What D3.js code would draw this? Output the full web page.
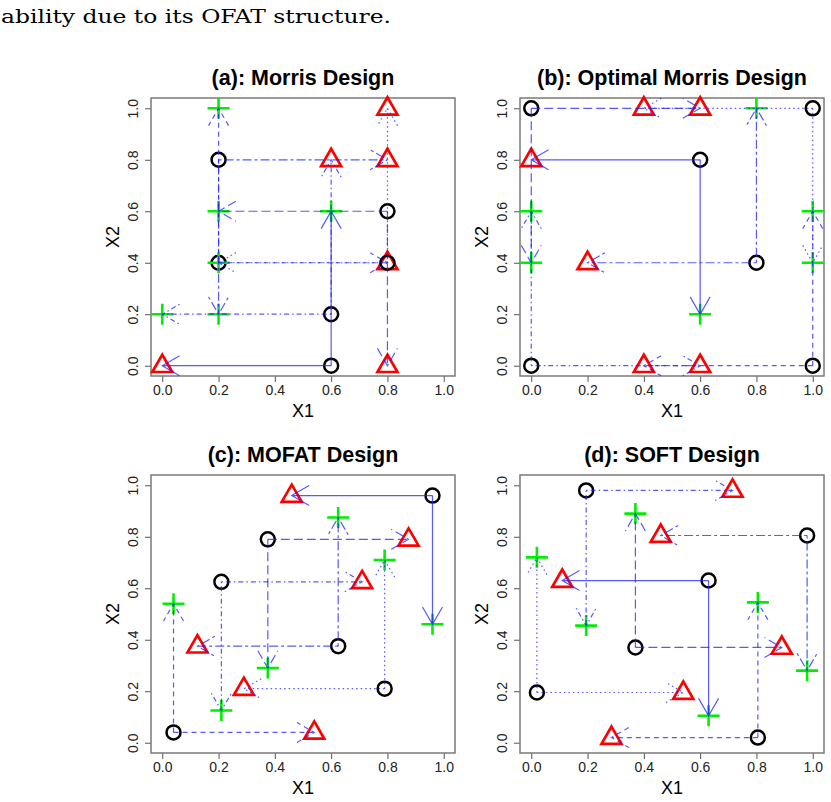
<!DOCTYPE html>
<html>
<head>
<meta charset="utf-8">
<script src="https://cdn.jsdelivr.net/npm/d3@7"></script>
<style>
  body { margin: 0; background: #fff; }
  svg { display: block; }
  .tick text { font-family: "Liberation Sans", Arial, sans-serif; font-size: 14px; fill: #222; }
  .tick line { stroke: #555; }
</style>
</head>
<body>
<div id="chart"></div>
<script>

// Point data: base point (circle), X1/X2 moves (triangle / plus), one line type each

const panelTitles = ["(a): Morris Design", "(b): Optimal Morris Design", "(c): MOFAT Design", "(d): SOFT Design"];
const tickValues = [0, 0.2, 0.4, 0.6, 0.8, 1.0];
const lineTypes = ["solid", "dashed", "dotted", "dotdash", "longdash", "twodash"];

const morrisCircle = [[0.6, 0.0], [0.2, 0.4], [0.8, 0.4], [0.6, 0.2], [0.8, 0.6], [0.2, 0.8]];
const morrisTriangle = [[0.0, 0.0], [0.8, 0.4], [0.8, 1.0], [0.6, 0.8], [0.8, 0.0], [0.8, 0.8]];
const morrisPlus = [[0.6, 0.6], [0.2, 1.0], [0.2, 0.4], [0.0, 0.2], [0.2, 0.6], [0.2, 0.2]];

const optCircle = [[0.6, 0.8], [1.0, 0.0], [1.0, 1.0], [0.0, 0.0], [0.0, 1.0], [0.8, 0.4]];
const optTriangle = [[0.0, 0.8], [0.4, 0.0], [0.4, 1.0], [0.6, 0.0], [0.6, 1.0], [0.2, 0.4]];
const optPlus = [[0.6, 0.2], [1.0, 0.6], [1.0, 0.4], [0.0, 0.6], [0.0, 0.4], [0.8, 1.0]];

const mofatCircle = [[0.96, 0.96], [0.04, 0.04], [0.79, 0.21], [0.21, 0.625], [0.375, 0.79], [0.625, 0.375]];
const mofatTriangle = [[0.46, 0.96], [0.54, 0.04], [0.29, 0.21], [0.71, 0.625], [0.875, 0.79], [0.125, 0.375]];
const mofatPlus = [[0.96, 0.46], [0.04, 0.54], [0.79, 0.71], [0.21, 0.125], [0.375, 0.29], [0.625, 0.875]];

const softCircle = [[0.63, 0.63], [0.805, 0.02], [0.02, 0.195], [0.195, 0.98], [0.37, 0.37], [0.98, 0.805]];
const softTriangle = [[0.11, 0.63], [0.285, 0.02], [0.54, 0.195], [0.715, 0.98], [0.89, 0.37], [0.46, 0.805]];
const softPlus = [[0.63, 0.105], [0.805, 0.545], [0.02, 0.72], [0.195, 0.455], [0.37, 0.89], [0.98, 0.28]];

function drawChart(width, height, selector) {

	let dashes = {
		solid: null,
		dashed: "5,4",
		dotted: "1.5,3",
		dotdash: "1.5,3,5,3",
		longdash: "9,4",
		twodash: "3,3,9,3"
	};

	let designs = [
		{ circle: morrisCircle, tri: morrisTriangle, plus: morrisPlus },
		{ circle: optCircle, tri: optTriangle, plus: optPlus },
		{ circle: mofatCircle, tri: mofatTriangle, plus: mofatPlus },
		{ circle: softCircle, tri: softTriangle, plus: softPlus }
	];

	// box position of each panel
	let boxes = [
		{ left: 151, top: 98 },
		{ left: 520, top: 98 },
		{ left: 151, top: 475 },
		{ left: 520, top: 475 }
	];
	let boxWidth = 304;
	let boxHeight = 278;

	let svg = d3.select(selector)
		.append("svg")
		.attr("width", width)
		.attr("height", height);

	svg.append("text")
		.attr("x", 1)
		.attr("y", 23)
		.attr("font-family", "'DejaVu Serif', serif")
		.attr("font-size", 19)
		.attr("textLength", 390)
		.attr("lengthAdjust", "spacingAndGlyphs")
		.text("ability due to its OFAT structure.");

	designs.forEach((design, p) => {
		let box = boxes[p];

		let xScale = d3.scaleLinear()
			.domain([-0.04, 1.04])
			.range([0, boxWidth]);

		let yScale = d3.scaleLinear()
			.domain([-0.04, 1.04])
			.range([boxHeight, 0]);

		let panel = svg.append("g")
			.attr("transform", `translate(${box.left},${box.top})`);

		// title
		panel.append("text")
			.attr("x", boxWidth / 2)
			.attr("y", -13)
			.attr("text-anchor", "middle")
			.attr("font-family", "'Liberation Sans', Arial, sans-serif")
			.attr("font-weight", "bold")
			.attr("font-size", 21.5)
			.text(panelTitles[p]);

		// axes
		let xAxis = d3.axisBottom(xScale)
			.tickValues(tickValues)
			.tickFormat(d3.format(".1f"))
			.tickSize(6)
			.tickPadding(3);

		let xg = panel.append("g")
			.attr("transform", `translate(0,${boxHeight})`)
			.call(xAxis);
		xg.select(".domain").remove();

		let yAxis = d3.axisLeft(yScale)
			.tickValues(tickValues)
			.tickFormat(d3.format(".1f"))
			.tickSize(6);

		let yg = panel.append("g").call(yAxis);
		yg.select(".domain").remove();
		yg.selectAll(".tick text")
			.attr("x", 0)
			.attr("y", -13)
			.attr("dy", 0)
			.attr("text-anchor", "middle")
			.attr("transform", "rotate(-90)");

		// axis titles
		panel.append("text")
			.attr("x", boxWidth / 2)
			.attr("y", boxHeight + 41)
			.attr("text-anchor", "middle")
			.attr("font-family", "'Liberation Sans', Arial, sans-serif")
			.attr("font-size", 18)
			.text("X1");

		panel.append("text")
			.attr("transform", `translate(-32,${boxHeight / 2}) rotate(-90)`)
			.attr("text-anchor", "middle")
			.attr("font-family", "'Liberation Sans', Arial, sans-serif")
			.attr("font-size", 18)
			.text("X2");

		// box
		panel.append("rect")
			.attr("width", boxWidth)
			.attr("height", boxHeight)
			.attr("fill", "none")
			.attr("stroke", "#7a7a7a")
			.attr("stroke-width", 1.5);

		// points
		panel.selectAll(".tri")
			.data(design.tri)
			.join("path")
			.attr("class", "tri")
			.attr("d", "M0,-11L10,6.3L-10,6.3Z")
			.attr("transform", d => `translate(${xScale(d[0])},${yScale(d[1])})`)
			.attr("fill", "none")
			.attr("stroke", "#ff0000")
			.attr("stroke-width", 2.7);

		panel.selectAll(".circ")
			.data(design.circle)
			.join("circle")
			.attr("class", "circ")
			.attr("cx", d => xScale(d[0]))
			.attr("cy", d => yScale(d[1]))
			.attr("r", 7)
			.attr("fill", "none")
			.attr("stroke", "#000")
			.attr("stroke-width", 2.5);

		panel.selectAll(".plus")
			.data(design.plus)
			.join("path")
			.attr("class", "plus")
			.attr("d", "M-11,0H11M0,-10.5V10.5")
			.attr("transform", d => `translate(${xScale(d[0])},${yScale(d[1])})`)
			.attr("stroke", "#00ee00")
			.attr("stroke-width", 2.6);

		// arrows from each base point to its two moves
		let arrows = [];
		design.circle.forEach((c, i) => {
			arrows.push({ from: c, to: design.tri[i], lty: lineTypes[i] });
			arrows.push({ from: c, to: design.plus[i], lty: lineTypes[i] });
		});

		let headLength = 20;
		let headAngle = Math.PI / 6;

		let arrowPath = function(d) {
			let x0 = xScale(d.from[0]), y0 = yScale(d.from[1]);
			let x1 = xScale(d.to[0]), y1 = yScale(d.to[1]);
			let a = Math.atan2(y1 - y0, x1 - x0);
			let ax = x1 - headLength * Math.cos(a - headAngle);
			let ay = y1 - headLength * Math.sin(a - headAngle);
			let bx = x1 - headLength * Math.cos(a + headAngle);
			let by = y1 - headLength * Math.sin(a + headAngle);
			return `M${x0},${y0}L${x1},${y1}M${ax},${ay}L${x1},${y1}L${bx},${by}`;
		};

		panel.selectAll(".arrow")
			.data(arrows)
			.join("path")
			.attr("class", "arrow")
			.attr("d", arrowPath)
			.attr("fill", "none")
			.attr("stroke", "#2020ff")
			.attr("stroke-opacity", 0.75)
			.attr("stroke-width", 1.2)
			.attr("stroke-dasharray", d => dashes[d.lty]);
	});
}

drawChart(831, 802, "#chart");
</script>
</body>
</html>
